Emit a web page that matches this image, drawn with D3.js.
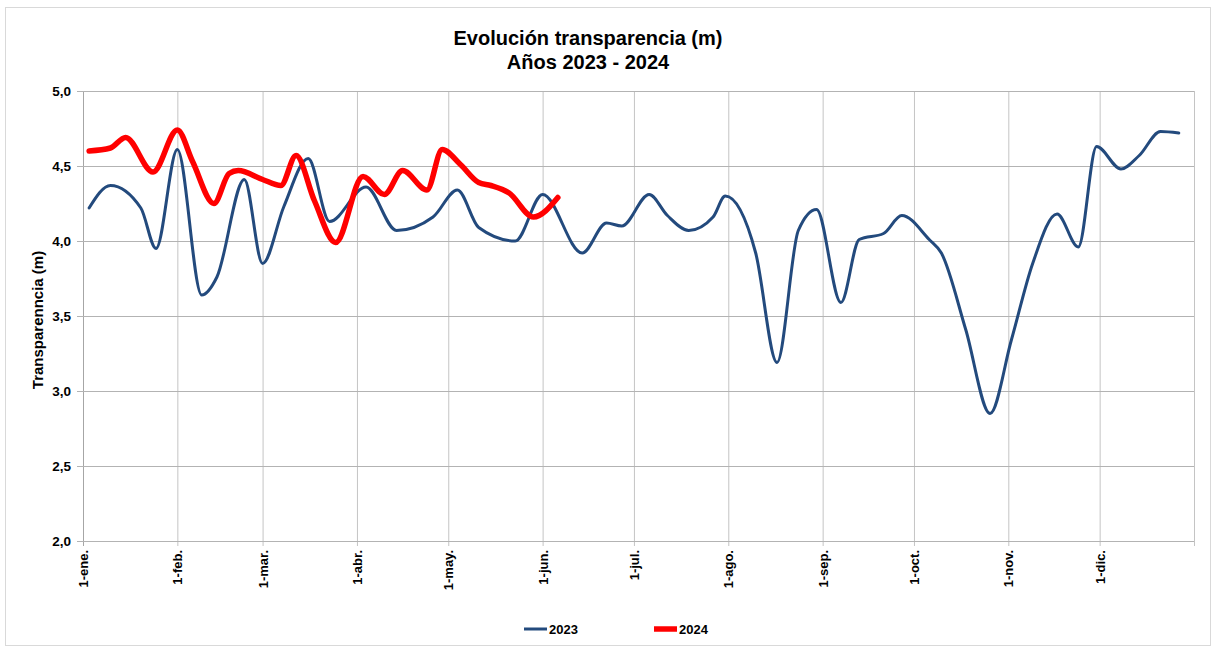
<!DOCTYPE html>
<html>
<head>
<meta charset="utf-8">
<script src="https://cdn.jsdelivr.net/npm/d3@7"></script>
<style>
  body { margin: 0; background: #fff; }
  svg { font-family: "Liberation Sans", Arial, sans-serif; }
</style>
</head>
<body>
<div id="chart"></div>
<script>
// fechas (dd/mm) y valores
const dates2023 = ["03/01","10/01","20/01","25/01","01/02","09/02","14/02","23/02","01/03","08/03",
  "16/03","23/03","04/04","14/04","26/04","04/05","11/05","23/05","01/06","14/06","22/06","27/06",
  "06/07","12/07","19/07","27/07","31/07","10/08","17/08","24/08","30/08","07/09","13/09","21/09",
  "27/09","06/10","10/10","18/10","26/10","02/11","09/11","17/11","24/11","30/11","08/12","14/12",
  "21/12","27/12"];
const values2023 = [4.22,4.37,4.22,3.95,4.61,3.64,3.76,4.41,3.85,4.23,
  4.55,4.13,4.36,4.07,4.16,4.34,4.09,4.00,4.31,3.92,4.12,4.10,
  4.31,4.17,4.07,4.16,4.30,3.92,3.19,4.07,4.21,3.59,4.01,4.05,
  4.17,4.01,3.92,3.41,2.85,3.34,3.85,4.18,3.96,4.63,4.48,4.57,
  4.73,4.72];

const dates2024 = ["03/01","10/01","15/01","24/01","01/02","06/02","13/02","18/02","21/02","01/03",
  "07/03","12/03","18/03","25/03","03/04","10/04","16/04","24/04","29/04","05/05","11/05","15/05",
  "21/05","29/05","06/06"];
const values2024 = [4.60,4.62,4.69,4.46,4.74,4.53,4.25,4.45,4.47,4.41,
  4.37,4.57,4.27,3.99,4.43,4.31,4.47,4.34,4.61,4.51,4.39,4.37,
  4.32,4.16,4.29];

const monthLabels = ["1-ene.","1-feb.","1-mar.","1-abr.","1-may.","1-jun.","1-jul.","1-ago.",
  "1-sep.","1-oct.","1-nov.","1-dic."];
const yTicks = [2.0, 2.5, 3.0, 3.5, 4.0, 4.5, 5.0];
const seriesNames = ["2023", "2024"];

const W = 1217, H = 650;
const margin = {left: 83, right: 1194, top: 91, bottom: 541};

const parse = d3.timeParse("%d/%m/%Y");
const toDate = s => parse(s + "/2023");

const series = [
  {name: seriesNames[0], color: "#234a7d", width: 3,
   data: dates2023.map((d, i) => ({date: toDate(d), v: values2023[i]}))},
  {name: seriesNames[1], color: "#ff0000", width: 5.5,
   data: dates2024.map((d, i) => ({date: toDate(d), v: values2024[i]}))}
];

const x = d3.scaleTime()
    .domain([new Date(2023, 0, 1), new Date(2024, 0, 1)])
    .range([margin.left, margin.right]);
const y = d3.scaleLinear()
    .domain([2, 5])
    .range([margin.bottom, margin.top]);

const svg = d3.select("#chart").append("svg")
    .attr("width", W)
    .attr("height", H);

svg.append("rect")
    .attr("x", 5.5).attr("y", 7.5)
    .attr("width", 1205).attr("height", 638)
    .attr("fill", "#fff")
    .attr("stroke", "#d9d9d9");

// titulo
const title = svg.append("text")
    .attr("x", 588).attr("y", 45)
    .attr("text-anchor", "middle")
    .attr("font-size", 20)
    .attr("font-weight", "bold");
title.append("tspan").attr("x", 588).text("Evolución transparencia (m)");
title.append("tspan").attr("x", 588).attr("dy", 24).text("Años 2023 - 2024");

const monthTicks = d3.range(12).map(m => new Date(2023, m, 1));

// rejilla
svg.append("g")
    .selectAll("line")
    .data(monthTicks.concat([new Date(2024, 0, 1)]))
    .join("line")
      .attr("x1", d => x(d) + 0.5).attr("x2", d => x(d) + 0.5)
      .attr("y1", margin.top).attr("y2", margin.bottom + 5)
      .attr("stroke", (d, i) => i === 0 ? "#a6a6a6" : "#c4c4c4")
      .attr("stroke-width", 1);

svg.append("g")
    .selectAll("line")
    .data(yTicks)
    .join("line")
      .attr("x1", margin.left - 6).attr("x2", margin.right)
      .attr("y1", d => Math.round(y(d)) + 0.5).attr("y2", d => Math.round(y(d)) + 0.5)
      .attr("stroke", "#b3b3b3");

// ejes
const yAxis = svg.append("g")
    .attr("transform", `translate(${margin.left},0)`)
    .call(d3.axisLeft(y).tickValues(yTicks).tickSize(0).tickPadding(12)
      .tickFormat(d => d3.format(".1f")(d).replace(".", ",")));
yAxis.select(".domain").remove();
yAxis.selectAll("text")
    .attr("font-size", 13.5)
    .attr("font-weight", "bold")
    .attr("fill", "#000")
    .attr("font-family", "Liberation Sans, Arial, sans-serif");

const xAxis = svg.append("g")
    .attr("transform", `translate(0,${margin.bottom})`)
    .call(d3.axisBottom(x).tickValues(monthTicks).tickSize(0)
      .tickFormat((d, i) => monthLabels[i]));
xAxis.select(".domain").remove();
xAxis.selectAll("text")
    .attr("font-size", 13)
    .attr("font-weight", "bold")
    .attr("fill", "#000")
    .attr("font-family", "Liberation Sans, Arial, sans-serif")
    .attr("text-anchor", "end")
    .attr("transform", "rotate(-90)")
    .attr("x", -9)
    .attr("y", 0)
    .attr("dy", "0.35em");

svg.append("text")
    .attr("transform", `translate(43,${(margin.top + margin.bottom) / 2 + 4}) rotate(-90)`)
    .attr("text-anchor", "middle")
    .attr("font-size", 15)
    .attr("font-weight", "bold")
    .text("Transparenncia (m)");

// lineas
const line = d3.line()
    .x(d => x(d.date))
    .y(d => y(d.v))
    .curve(d3.curveMonotoneX);

svg.append("g")
    .selectAll("path")
    .data(series)
    .join("path")
      .attr("fill", "none")
      .attr("stroke", d => d.color)
      .attr("stroke-width", d => d.width)
      .attr("stroke-linejoin", "round")
      .attr("stroke-linecap", "round")
      .attr("d", d => line(d.data));

// leyenda
const legend = svg.append("g")
    .selectAll("g")
    .data(series)
    .join("g")
      .attr("transform", (d, i) => `translate(${524 + i * 130},629)`);
legend.append("line")
    .attr("x1", 0).attr("x2", 23)
    .attr("stroke", d => d.color)
    .attr("stroke-width", d => d.width);
legend.append("text")
    .attr("x", 25).attr("dy", "0.35em")
    .attr("font-size", 13)
    .attr("font-weight", "bold")
    .text(d => d.name);
</script>
</body>
</html>
